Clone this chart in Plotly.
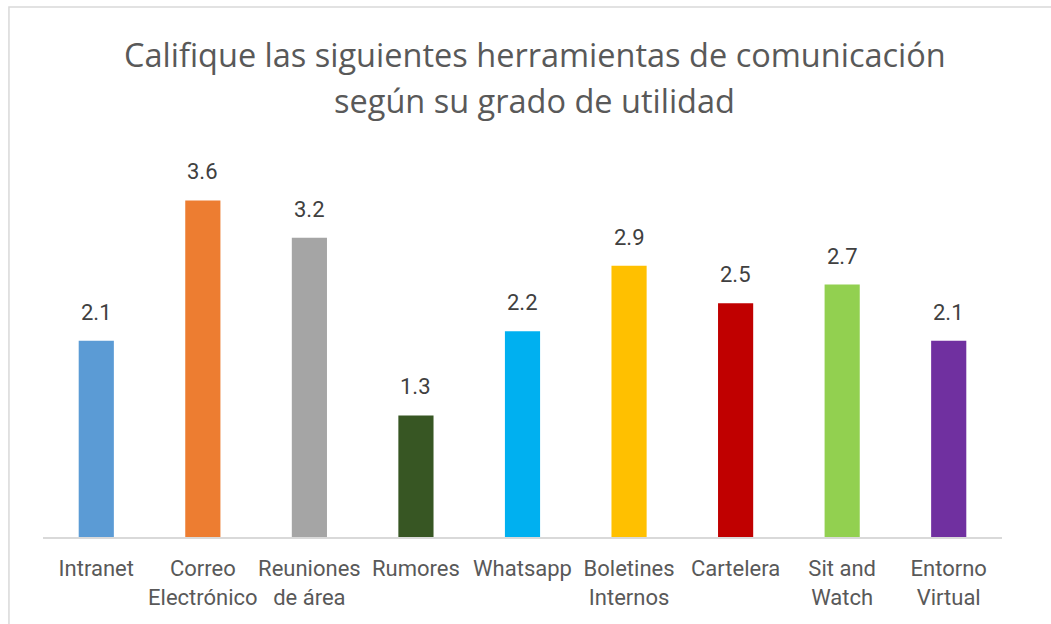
import plotly.graph_objects as go

# Chart data
categories = ['Intranet', 'Correo<br>Electrónico', 'Reuniones<br>de área', 'Rumores', 'Whatsapp',
              'Boletines<br>Internos', 'Cartelera', 'Sit and<br>Watch', 'Entorno<br>Virtual']
scores = [2.1, 3.6, 3.2, 1.3, 2.2, 2.9, 2.5, 2.7, 2.1]
bar_colors = ['#5B9BD5', '#ED7D31', '#A5A5A5', '#375623', '#00B0F0',
              '#FFC000', '#C00000', '#92D050', '#7030A0']
title_lines = ['Califique las siguientes herramientas de comunicación',
               'según su grado de utilidad']

FONT = 'Roboto'
TITLE_FONT = 'Open Sans'

fig = go.Figure()
fig.add_trace(go.Bar(x=categories, y=scores, marker=dict(color=bar_colors, line=dict(width=0)),
                     hoverinfo='x+y'))

# value labels above the bars
for cat, val in zip(categories, scores):
    fig.add_annotation(x=cat, y=val, text=f'{val:.1f}', showarrow=False, yanchor='bottom',
                       yshift=14, font=dict(family=FONT, size=22, color='#404040'))

# two-line title
fig.add_annotation(x=0.513, y=1.0, xref='paper', yref='paper', text=title_lines[0], showarrow=False,
                   yanchor='middle', yshift=109, font=dict(family=TITLE_FONT, size=32.5, color='#595959'))
fig.add_annotation(x=0.513, y=1.0, xref='paper', yref='paper', text=title_lines[1], showarrow=False,
                   yanchor='middle', yshift=63, font=dict(family=TITLE_FONT, size=32.5, color='#595959'))

# chart area border (left and top edges visible)
fig.add_shape(type='rect', xref='paper', yref='paper', x0=-0.0355, x1=1.2, y0=-0.5, y1=1.417,
              line=dict(color='#D9D9D9', width=1.5), fillcolor='rgba(0,0,0,0)', layer='below')

fig.update_layout(
    width=1051, height=624,
    margin=dict(l=43, r=49, t=163, b=87, autoexpand=False),
    paper_bgcolor='white', plot_bgcolor='white',
    bargap=0.67, showlegend=False,
    font=dict(family=FONT, size=22, color='#595959'),
    xaxis=dict(showline=True, linecolor='#D9D9D9', linewidth=1.5, ticks='', showgrid=False,
               tickangle=0, automargin=False, ticklabelstandoff=11,
               tickfont=dict(family=FONT, size=22, color='#595959')),
    yaxis=dict(range=[0, 4], visible=False, showgrid=False, zeroline=False),
)

# drop the default page margin so the figure sits at the window's top-left corner
fig.write_html('out.html', config={'displayModeBar': False},
               post_script="document.body.style.margin='0';")
